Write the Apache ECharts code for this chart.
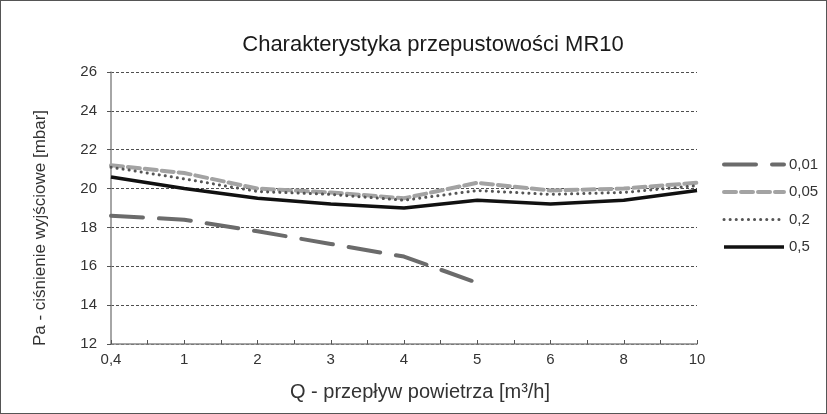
<!DOCTYPE html>
<html lang="pl">
<head>
    <meta charset="UTF-8">
    <title>Charakterystyka przepustowości MR10</title>
    <script type="text/javascript" src="https://cdn.jsdelivr.net/npm/echarts@6/dist/echarts.min.js"></script>
</head>
<body style="margin: 0;">
<div id="container" style="width: 825px; height: 412px; border: 1px solid #555;"></div>
<script type="text/javascript">
    // przepływ Q [m3/h] - etykiety osi X
    var qLabels = ['0,4', '1', '2', '3', '4', '5', '6', '8', '10'];
    var seriesNames = ['0,01', '0,05', '0,2', '0,5'];
    // ciśnienie wyjściowe Pa [mbar]
    var p001 = [18.6, 18.4, 17.8, 17.15, 16.5, 15.15, null, null, null];
    var p005 = [21.2, 20.8, 20.0, 19.8, 19.5, 20.3, 19.9, 20.0, 20.3];
    var p02 = [21.1, 20.5, 19.85, 19.7, 19.4, 19.9, 19.7, 19.8, 20.15];
    var p05 = [20.6, 20.0, 19.5, 19.2, 19.0, 19.4, 19.2, 19.4, 19.9];

    function pts(arr) {
        var out = [];
        for (var i = 0; i < arr.length; i++) {
            if (arr[i] !== null) out.push([i, arr[i]]);
        }
        return out;
    }

    var styles = [
        {color: '#6b6b6b', width: 4, type: [32, 16], cap: 'round'},
        {color: '#a3a3a3', width: 4, type: [12, 5], cap: 'round'},
        {color: '#555', width: 3, type: [0.1, 6], cap: 'round'},
        {color: '#111', width: 3.5, type: 'solid'}
    ];
    var allData = [p001, p005, p02, p05];

    var dom = document.getElementById("container");
    var myChart = echarts.init(dom);
    var font = 'Liberation Sans, Arial, sans-serif';

    var option = {
        animation: false,
        textStyle: {fontFamily: font},
        title: {
            text: 'Charakterystyka przepustowości MR10',
            left: 427, top: 28, textAlign: 'center',
            textStyle: {fontSize: 22, fontWeight: 'normal', color: '#1a1a1a', fontFamily: font}
        },
        grid: {left: 110, right: 129, top: 71, bottom: 69},
        legend: {
            orient: 'vertical',
            left: 716, top: 151,
            itemWidth: 60, itemHeight: 14, itemGap: 12.5,
            textStyle: {fontSize: 15, color: '#333', fontFamily: font},
            data: seriesNames.map(function (n, i) {
                return {name: n, itemStyle: {opacity: 0}, lineStyle: styles[i]};
            })
        },
        xAxis: {
            type: 'value',
            min: 0, max: 8, interval: 1,
            name: 'Q - przepływ powietrza [m³/h]',
            nameLocation: 'middle', nameGap: 38,
            nameTextStyle: {fontSize: 20, color: '#333', fontFamily: font, padding: [0, 0, 0, 32]},
            axisLine: {lineStyle: {color: '#888', width: 1.5}},
            axisTick: {show: true, inside: true, length: 4, lineStyle: {color: '#555'}},
            minorTick: {show: true, splitNumber: 2, length: 4, lineStyle: {color: '#555'}},
            splitLine: {show: false},
            axisLabel: {
                fontSize: 15, color: '#333', margin: 8, fontFamily: font,
                formatter: function (v) { return qLabels[v]; }
            }
        },
        yAxis: {
            type: 'value',
            min: 12, max: 26, interval: 2,
            name: 'Pa - ciśnienie wyjściowe [mbar]',
            nameLocation: 'middle', nameGap: 62, nameRotate: 90,
            nameTextStyle: {fontSize: 17, color: '#333', fontFamily: font, padding: [0, 40, 0, 0]},
            axisLine: {show: true, lineStyle: {color: '#888', width: 1.5}},
            axisTick: {show: true, length: 4, lineStyle: {color: '#555'}},
            splitLine: {lineStyle: {color: '#222', type: [3, 2], width: 0.8}},
            axisLabel: {fontSize: 15, color: '#333', margin: 14, fontFamily: font}
        },
        series: seriesNames.map(function (n, i) {
            return {
                name: n, type: 'line', data: pts(allData[i]),
                symbol: 'none', color: styles[i].color,
                lineStyle: styles[i]
            };
        })
    };
    myChart.setOption(option, true);
</script>
</body>
</html>
